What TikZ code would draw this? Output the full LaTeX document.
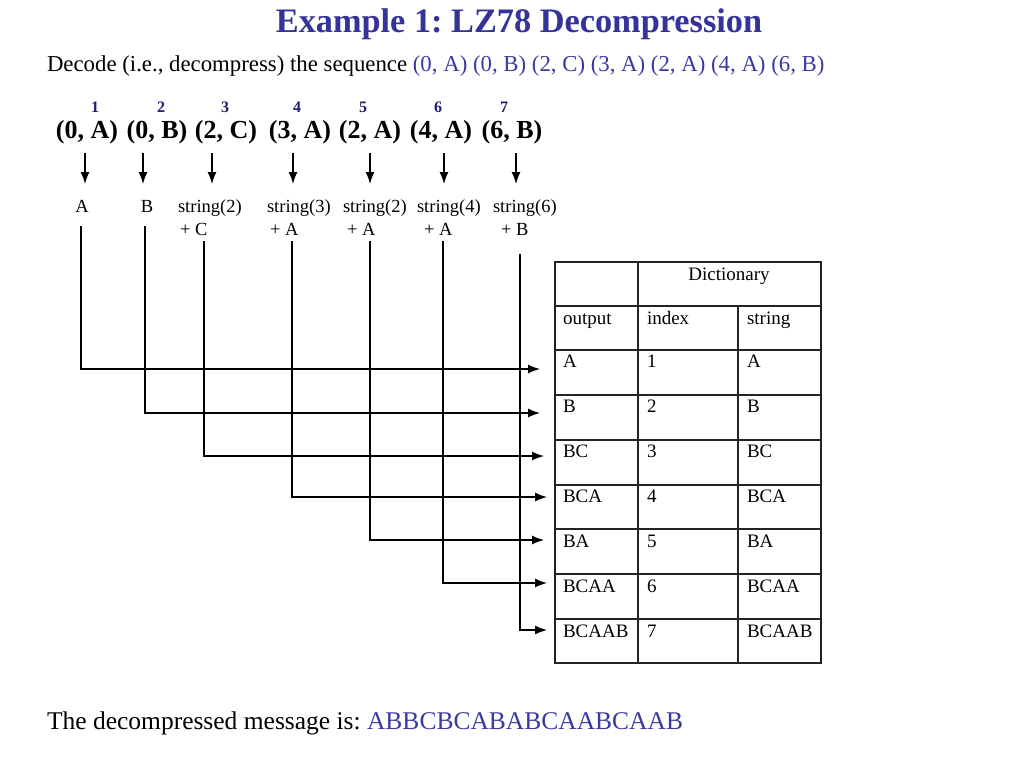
\documentclass[tikz,border=0pt]{standalone}
\usepackage{fontspec}
\setmainfont{Liberation Serif}
\usetikzlibrary{arrows.meta}
\definecolor{titleblue}{RGB}{51,51,153}
\definecolor{seqblue}{RGB}{58,58,160}
\definecolor{numnavy}{RGB}{30,30,110}
\definecolor{gridgray}{RGB}{35,35,35}
\begin{document}
\frenchspacing
\begin{tikzpicture}[x=1pt,y=-1pt,
  base/.style={inner sep=0pt, outer sep=0pt, anchor=base},
  basew/.style={inner sep=0pt, outer sep=0pt, anchor=base west},
  ttl/.style={base, font=\fontsize{34.3}{40}\selectfont\bfseries, text=titleblue},
  sub/.style={basew, font=\fontsize{22.8}{26}\selectfont},
  fin/.style={basew, font=\fontsize{25.5}{30}\selectfont},
  tup/.style={base, font=\fontsize{26}{30}\selectfont\bfseries},
  num/.style={base, font=\fontsize{16}{18}\selectfont\bfseries, text=numnavy},
  lab/.style={base, font=\fontsize{18.5}{22}\selectfont},
  labw/.style={basew, font=\fontsize{18.5}{22}\selectfont},
  cell/.style={basew, font=\fontsize{19}{22}\selectfont},
  down/.style={line width=1.3pt, -{Latex[length=12pt,width=9pt]}},
  conn/.style={line width=1.3pt, -{Latex[length=12pt,width=9pt]}},
  grid/.style={line width=1.3pt, draw=gridgray}]
\useasboundingbox (0,0) rectangle (1024,768);
\fill[white] (0,0) rectangle (1024,768);

% title and texts
\node[ttl] (title) at (519,33) {Example 1: LZ78 Decompression};
\node[sub] (subt) at (47,71) {Decode (i.e., decompress) the sequence \textcolor{seqblue}{(0, A) (0, B) (2, C) (3, A) (2, A) (4, A) (6, B)}};
\node[fin] (final) at (47,729) {The decompressed message is: \textcolor{seqblue}{ABBCBCABABCAABCAAB}};

% numbers
\node[num] (n1) at (95,112) {1};
\node[num] (n2) at (161,112) {2};
\node[num] (n3) at (225,112) {3};
\node[num] (n4) at (297,112) {4};
\node[num] (n5) at (363,112) {5};
\node[num] (n6) at (438,112) {6};
\node[num] (n7) at (504,112) {7};

% tuples
\node[tup] (t1) at (87,138) {(0, A)};
\node[tup] (t2) at (157,138) {(0, B)};
\node[tup] (t3) at (226,138) {(2, C)};
\node[tup] (t4) at (300,138) {(3, A)};
\node[tup] (t5) at (370,138) {(2, A)};
\node[tup] (t6) at (441,138) {(4, A)};
\node[tup] (t7) at (512,138) {(6, B)};

% down arrows
\foreach \i/\x in {1/85,2/143,3/212,4/293,5/370,6/444,7/516}{
  \coordinate (da\i) at (\x,153);
  \coordinate (db\i) at (\x,184);
  \draw[down] (da\i) -- (db\i);
}

% labels
\node[lab] (l1) at (82,212) {A};
\node[lab] (l2) at (147,212) {B};
\node[labw] (l3) at (178,212) {string(2)};
\node[labw] (p3) at (180,235) {+ C};
\node[labw] (l4) at (267,212) {string(3)};
\node[labw] (p4) at (270,235) {+ A};
\node[labw] (l5) at (343,212) {string(2)};
\node[labw] (p5) at (347,235) {+ A};
\node[labw] (l6) at (417,212) {string(4)};
\node[labw] (p6) at (424,235) {+ A};
\node[labw] (l7) at (493,212) {string(6)};
\node[labw] (p7) at (501,235) {+ B};

% connectors to table
\coordinate (v1) at (81,226);
\coordinate (v2) at (145,226);
\coordinate (v3) at (204,241);
\coordinate (v4) at (292,241);
\coordinate (v5) at (370,241);
\coordinate (v6) at (443,241);
\coordinate (v7) at (520,254);
\coordinate (e1) at (540,369);
\coordinate (e2) at (540,413);
\coordinate (e3) at (544,456);
\coordinate (e4) at (547,497);
\coordinate (e5) at (544,540);
\coordinate (e6) at (547,583);
\coordinate (e7) at (547,630);
\foreach \i in {1,...,7}{
  \draw[conn] (v\i) |- (e\i);
}

% table grid
\draw[grid] (555,262) rectangle (821,663);
\foreach \y in {306,350,395,440,485,529,574,619}{
  \draw[grid] (555,\y) -- (821,\y);
}
\draw[grid] (638,262) -- (638,663);
\draw[grid] (738,306) -- (738,663);

% table text
\node[base, font=\fontsize{19}{22}\selectfont] (dict) at (729,280) {Dictionary};
\node[cell] (hout) at (563,324) {output};
\node[cell] (hidx) at (647,324) {index};
\node[cell] (hstr) at (747,324) {string};
\foreach \i/\y/\s in {1/367/A,2/412/B,3/457/BC,4/502/BCA,5/547/BA,6/592/BCAA,7/637/BCAAB}{
  \node[cell] (o\i) at (563,\y) {\s};
  \node[cell] (k\i) at (647,\y) {\i};
  \node[cell] (s\i) at (747,\y) {\s};
}
\end{tikzpicture}
\end{document}
